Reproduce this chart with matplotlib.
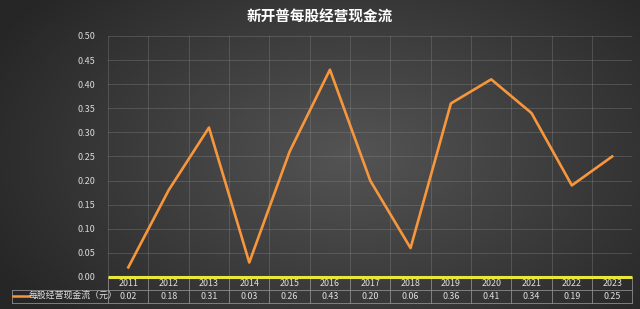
import numpy as np
import matplotlib.pyplot as plt
import matplotlib.transforms as mtransforms

plt.rcParams['font.family'] = ['Noto Sans CJK SC', 'DejaVu Sans']

title = "新开普每股经营现金流"
series_name = "每股经营现金流（元）"
years = ["2011", "2012", "2013", "2014", "2015", "2016", "2017",
         "2018", "2019", "2020", "2021", "2022", "2023"]
values = [0.02, 0.18, 0.31, 0.03, 0.26, 0.43, 0.20,
          0.06, 0.36, 0.41, 0.34, 0.19, 0.25]

fig = plt.figure(figsize=(6.4, 3.09), dpi=100)

# radial-ish dark background, lighter in the middle
bg = fig.add_axes([0, 0, 1, 1])
xx, yy = np.meshgrid(np.linspace(0, 1, 320), np.linspace(0, 1, 160))
d = np.sqrt(((xx - 0.55) / 0.7) ** 2 + ((yy - 0.5) / 0.9) ** 2)
shade = np.clip(0.33 - 0.2 * d, 0.15, 0.33)
bg.imshow(np.dstack([shade] * 3), aspect="auto", extent=[0, 1, 0, 1], origin="lower")
bg.axis("off")

ax = fig.add_axes([0.169, 0.1036, 0.819, 0.78])
ax.patch.set_alpha(0)
n = len(years)
x = np.arange(n)
ax.plot(x, values, color="#F7963C", lw=1.9, zorder=3)
ax.set_xlim(-0.5, n - 0.5)
ax.set_ylim(0, 0.5)
yt = np.arange(0, 0.501, 0.05)
ax.set_yticks(yt)
ax.set_yticklabels([f"{v:.2f}" for v in yt])
ax.tick_params(axis="y", length=0, colors="#d9d9d9", labelsize=6.5, pad=9)
ax.set_xticks([])
for xb in np.arange(-0.5, n, 1.0):
    ax.axvline(xb, color="#8a8a8a", lw=0.6, alpha=0.4, zorder=1)
for yv in yt[1:]:
    ax.axhline(yv, color="#8a8a8a", lw=0.6, alpha=0.4, zorder=1)
for s in ax.spines.values():
    s.set_visible(False)

# data table under the axis
tr = mtransforms.blended_transform_factory(ax.transData, ax.transAxes)
row_h = 13 / (0.78 * 309)
tcol = "#8c8c8c"
left_x = -0.5 - 96 / (0.819 * 640) * n
for i in range(n):
    ax.text(x[i], -row_h / 2, years[i], transform=tr, ha="center", va="center",
            color="#e0e0e0", fontsize=6.4)
    ax.text(x[i], -1.5 * row_h, f"{values[i]:.2f}", transform=tr, ha="center",
            va="center", color="#e0e0e0", fontsize=6.4)
for xb in np.arange(-0.5, n, 1.0):
    ax.plot([xb, xb], [0, -2 * row_h], transform=tr, color=tcol, lw=0.6, clip_on=False)
ax.plot([left_x, n - 0.5], [-row_h, -row_h], transform=tr, color=tcol, lw=0.6, clip_on=False)
ax.plot([left_x, n - 0.5], [-2 * row_h, -2 * row_h], transform=tr, color=tcol, lw=0.6, clip_on=False)
ax.plot([left_x, left_x], [-row_h, -2 * row_h], transform=tr, color=tcol, lw=0.6, clip_on=False)
ax.plot([left_x + 0.03, left_x + 0.42], [-1.5 * row_h] * 2, transform=tr,
        color="#F7963C", lw=1.8, clip_on=False)
ax.text(left_x + 0.42, -1.5 * row_h, series_name, transform=tr, ha="left",
        va="center", color="#e0e0e0", fontsize=6.4)

# yellow baseline on top of the table edge
ax.plot([-0.5, n - 0.5], [0, 0], transform=tr, color="#E8E83A", lw=2.2,
        clip_on=False, zorder=5, solid_capstyle="butt")

fig.text(0.5, 0.945, title, ha="center", va="center", color="white",
         fontsize=10.5, fontweight="bold")

fig.savefig("out.png", dpi=100)
